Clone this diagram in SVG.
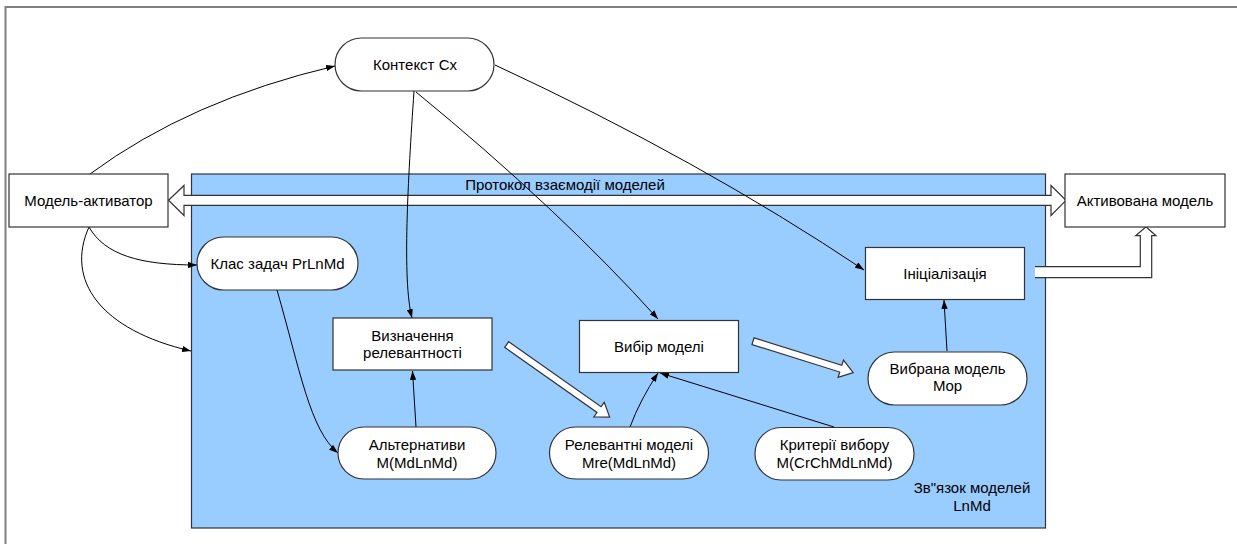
<svg xmlns="http://www.w3.org/2000/svg" width="1237" height="545" viewBox="0 0 1237 545">
<defs>
<style>
.t{font-family:"Liberation Sans",Arial,sans-serif;font-size:15px;fill:#000;text-anchor:middle}
.n{fill:#fff;stroke:#333;stroke-width:1.2}
.c{fill:none;stroke:#000;stroke-width:1}
.b{fill:#fff;stroke:#333;stroke-width:1.2;stroke-linejoin:miter}
</style>
<marker id="ah" viewBox="0 0 10 7" refX="10" refY="3.5" markerWidth="9" markerHeight="6.3" markerUnits="userSpaceOnUse" orient="auto">
<path d="M0,0 L10,3.5 L0,7 z" fill="#000"/>
</marker>
</defs>
<rect width="1237" height="545" fill="#fff"/>
<path d="M5.5,544 L5.5,7 L1237,7" fill="none" stroke="#808080" stroke-width="2"/>

<g id="lnmd">
<rect x="191.5" y="174" width="854" height="354" fill="#99ccff" stroke="#333" stroke-width="1.2"/>
<text class="t" x="972" y="493">Зв"язок моделей</text>
<text class="t" x="972" y="511">LnMd</text>
</g>

<g id="protocol">
<path class="b" d="M168.5,200.3 L184,185.5 L184,195.3 L1051,195.3 L1051,185.5 L1066,200.3 L1051,215.5 L1051,205.3 L184,205.3 L184,215.5 Z"/>
<text class="t" x="565" y="190">Протокол взаємодії моделей</text>
</g>

<g id="connectors">
<path class="c" d="M90,174 Q190,100 335,66" marker-end="url(#ah)"/>
<path class="c" d="M414,91 C408,180 402,280 412,318" marker-end="url(#ah)"/>
<path class="c" d="M416,92 Q560,210 658,319" marker-end="url(#ah)"/>
<path class="c" d="M495,65 Q700,160 864,270" marker-end="url(#ah)"/>
<path class="c" d="M89,227 C105,255 140,265 197,265" marker-end="url(#ah)"/>
<path class="c" d="M89,227 C65,280 100,330 191,351" marker-end="url(#ah)"/>
<path class="c" d="M277,290 C300,370 310,430 338,453" marker-end="url(#ah)"/>
<path class="c" d="M416,427 L412.5,371" marker-end="url(#ah)"/>
<path class="c" d="M630,427 Q640,400 658,373" marker-end="url(#ah)"/>
<path class="c" d="M834,427 L660,373" marker-end="url(#ah)"/>
<path class="c" d="M947,351 L944,300" marker-end="url(#ah)"/>
<polygon class="b" points="0,-3.5 113,-3.5 113,-9 126,0 113,9 113,3.5 0,3.5" transform="translate(506.7,344.5) rotate(35.2)"/>
<polygon class="b" points="0,-3.5 92,-3.5 92,-9 105,0 92,9 92,3.5 0,3.5" transform="translate(753,341.2) rotate(17.4)"/>
<path d="M1035,266.7 L1140.3,266.7 L1140.3,235.7 L1135.7,235.7 L1146,226.7 L1156,235.7 L1151.7,235.7 L1151.7,277.7 L1035,277.7 Z" fill="#fff" stroke="none"/>
<path d="M1035,266.7 L1140.3,266.7 L1140.3,235.7 L1135.7,235.7 L1146,226.7 L1156,235.7 L1151.7,235.7 L1151.7,277.7 L1035,277.7" fill="none" stroke="#333" stroke-width="1.2"/>
</g>

<g id="context">
<rect class="n" x="335" y="38" width="159" height="53" rx="26.5"/>
<text class="t" x="415" y="69.5">Контекст Cx</text>
</g>
<g id="activator">
<rect class="n" x="9" y="174" width="159" height="53"/>
<text class="t" x="88.5" y="205.5">Модель-активатор</text>
</g>
<g id="activated">
<rect class="n" x="1065" y="174" width="160" height="53"/>
<text class="t" x="1145" y="205.5">Активована модель</text>
</g>
<g id="tasks">
<rect class="n" x="197" y="237" width="161" height="53" rx="26.5"/>
<text class="t" x="277.5" y="268.5">Клас задач PrLnMd</text>
</g>
<g id="init">
<rect class="n" x="865.5" y="247.5" width="159" height="52"/>
<text class="t" x="945" y="278.5">Ініціалізація</text>
</g>
<g id="relevance">
<rect class="n" x="333" y="318" width="159" height="52"/>
<text class="t" x="412.5" y="341">Визначення</text>
<text class="t" x="412.5" y="358">релевантності</text>
</g>
<g id="choice">
<rect class="n" x="579.5" y="320.5" width="159" height="52"/>
<text class="t" x="659" y="351.5">Вибір моделі</text>
</g>
<g id="chosen">
<rect class="n" x="868" y="352" width="159" height="53" rx="26.5"/>
<text class="t" x="947.5" y="374">Вибрана модель</text>
<text class="t" x="947.5" y="391">Mop</text>
</g>
<g id="alternatives">
<rect class="n" x="338" y="427" width="158" height="52" rx="26"/>
<text class="t" x="417" y="449.5">Альтернативи</text>
<text class="t" x="417" y="467.5">M(MdLnMd)</text>
</g>
<g id="relevant">
<rect class="n" x="549.5" y="427" width="159" height="52" rx="26"/>
<text class="t" x="629" y="449.5">Релевантні моделі</text>
<text class="t" x="629" y="467.5">Mre(MdLnMd)</text>
</g>
<g id="criteria">
<rect class="n" x="755" y="427.5" width="159" height="52.5" rx="26"/>
<text class="t" x="834.5" y="449.5">Критерії вибору</text>
<text class="t" x="834.5" y="467.5">M(CrChMdLnMd)</text>
</g>
</svg>
